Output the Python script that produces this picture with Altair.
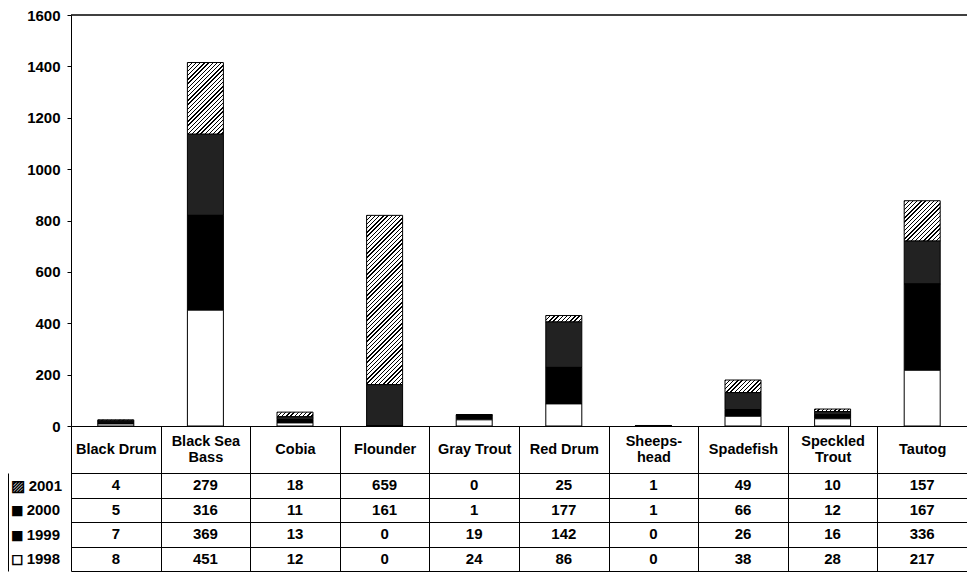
import altair as alt
import pandas as pd

# ---------------- data ----------------
species = ["Black Drum", "Black Sea Bass", "Cobia", "Flounder", "Gray Trout",
           "Red Drum", "Sheepshead", "Spadefish", "Speckled Trout", "Tautog"]
header_lines = {"Black Sea Bass": ["Black Sea", "Bass"],
                "Sheepshead": ["Sheeps-", "head"],
                "Speckled Trout": ["Speckled", "Trout"]}
years = ["2001", "2000", "1999", "1998"]
year_symbols = {"2001": "\u25a8", "2000": "\u25fc", "1999": "\u25fc", "1998": "\u25fb"}
v2001 = [4, 279, 18, 659, 0, 25, 1, 49, 10, 157]
v2000 = [5, 316, 11, 161, 1, 177, 1, 66, 12, 167]
v1999 = [7, 369, 13, 0, 19, 142, 0, 26, 16, 336]
v1998 = [8, 451, 12, 0, 24, 86, 0, 38, 28, 217]
y_ticks = [0, 200, 400, 600, 800, 1000, 1200, 1400, 1600]

series = {"2001": v2001, "2000": v2000, "1999": v1999, "1998": v1998}
stack_order = {"1998": 0, "1999": 1, "2000": 2, "2001": 3}
rows = []
for yr, vals in series.items():
    for sp, v in zip(species, vals):
        rows.append({"species": sp, "year": yr, "value": v, "order": stack_order[yr]})
df = pd.DataFrame(rows)

# ---------------- geometry / style ----------------
W, H = 959, 556
X0 = 63
BAR_H = 411
HEAD = 47
ROWS_TOP = BAR_H + HEAD
BAR_W = 36
FONT = "Liberation Sans"
LH = 16

# hatch (2001) emulated with a striped linear gradient
PER = 4.2
M = 52
L = M * PER
stops = []
for i in range(M):
    a = i / M
    b = (i + 0.34) / M
    c = (i + 1) / M
    stops += [f"{{offset:{a:.5f},color:'#000000'}}", f"{{offset:{b:.5f},color:'#000000'}}",
              f"{{offset:{b:.5f},color:'#ffffff'}}", f"{{offset:{c:.5f},color:'#ffffff'}}"]
stops_str = "[" + ",".join(stops) + "]"
fill_expr = ("datum.year === '2001' ? {gradient:'linear',x1:0,y1:0,x2:datum.gx,y2:datum.gy,stops:"
             + stops_str + "} : (datum.year === '2000' ? '#222222' : (datum.year === '1999' ? '#000000' : '#ffffff'))")

label_expr_x = " : ".join(
    [f"datum.value === '{k}' ? ['{a}','{b}']" for k, (a, b) in header_lines.items()]) + " : datum.label"
two_line_test = "indexof([" + ",".join(f"'{k}'" for k in header_lines) + "], datum.value) >= 0"
label_expr_y = " : ".join(
    [f"datum.value === '{y}' ? '{year_symbols[y]} {y}'" for y in years]) + " : datum.label"

xscale = alt.Scale(range=[X0, W], paddingInner=0, paddingOuter=0)
xaxis = alt.Axis(orient="bottom", offset=BAR_H - H, tickBand="extent", tickSize=H - BAR_H,
                 labelPadding=HEAD / 2 - LH / 2 - (H - BAR_H),
                 labelBaseline={"condition": {"test": two_line_test, "value": "middle"},
                                "value": "line-top"},
                 labelAngle=0, labelExpr=label_expr_x, labelOverlap=False, labelLineHeight=LH,
                 title=None, grid=False, labelFontSize=14.5)

bars = (
    alt.Chart(df)
    .transform_stack(stack="value", groupby=["species"], as_=["v0", "v1"],
                     sort=[alt.SortField("order", order="ascending")])
    .transform_calculate(h=f"datum.value * {BAR_H} / 1600")
    .transform_calculate(gx=f"{BAR_W} * {L} / ({BAR_W * BAR_W} + datum.h * datum.h)")
    .transform_calculate(gy=f"datum.h * {L} / ({BAR_W * BAR_W} + datum.h * datum.h)")
    .mark_bar(width=BAR_W, stroke="black", strokeWidth=1, fill={"expr": fill_expr})
    .encode(
        x=alt.X("species:N", sort=species, scale=xscale, axis=xaxis),
        y=alt.Y("v0:Q", scale=alt.Scale(domain=[0, 1600], range=[BAR_H, 0], nice=False),
                axis=alt.Axis(orient="left", offset=-X0, values=y_ticks, format="d", tickSize=4,
                              labelPadding=7, title=None, grid=False, labelFontSize=15)),
        y2="v1:Q",
    )
)

top = (
    alt.Chart(pd.DataFrame({"t": [y_ticks[-1]]}))
    .mark_rule(color="black", strokeWidth=1.5)
    .encode(
        x=alt.XDatum(species[0], type="nominal", bandPosition=0),
        x2=alt.X2Datum(species[-1], bandPosition=1),
        y=alt.Y("t:Q"),
    )
)

table = (
    alt.Chart(df)
    .mark_text(font=FONT, fontWeight="bold", fontSize=15, color="black", baseline="middle")
    .encode(
        x=alt.X("species:N", sort=species, scale=xscale, axis=xaxis),
        y=alt.Y("year:N", sort=years,
                scale=alt.Scale(type="band", domain=years, range=[ROWS_TOP, H],
                                paddingInner=0, paddingOuter=0),
                axis=alt.Axis(orient="left", offset=0, title=None, tickSize=0, labelPadding=-2,
                              labelAlign="left", labelBaseline="middle", grid=True,
                              tickBand="extent", labelExpr=label_expr_y, labelFontSize=15)),
        text=alt.Text("value:Q"),
    )
)

chart = (
    alt.layer(alt.layer(bars, top), table)
    .resolve_scale(y="independent")
    .resolve_axis(y="independent")
    .properties(width=W, height=H,
                autosize=alt.AutoSizeParams(type="none"),
                padding={"left": 0, "top": 7, "right": 0, "bottom": 1})
    .configure_view(stroke=None)
    .configure_axis(labelFont=FONT, labelFontWeight="bold", labelColor="black",
                    domainColor="black", tickColor="black", gridColor="black",
                    gridOpacity=1, domainWidth=1, tickWidth=1, gridWidth=1)
)

chart.save("out.html", embed_options={"renderer": "svg", "actions": False})
